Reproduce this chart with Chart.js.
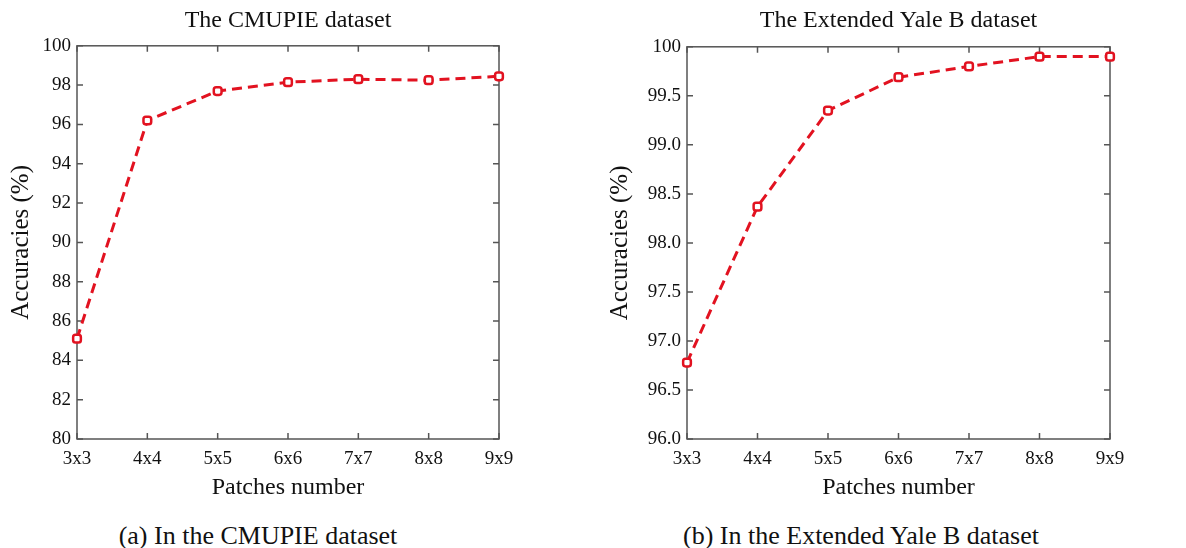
<!DOCTYPE html>
<html><head><meta charset="utf-8">
<script src="https://cdn.jsdelivr.net/npm/chart.js@4/dist/chart.umd.min.js"></script>
<style>
html,body{margin:0;padding:0;background:#fff;width:1186px;height:548px;overflow:hidden;}
.wrap{position:absolute;top:0;}
.cap{position:absolute;top:522px;font-family:"Liberation Serif",serif;font-size:26px;line-height:28px;color:#111;text-align:center;white-space:nowrap;}
</style></head><body>
<div class="wrap" style="left:0"><canvas id="c1" width="580" height="510"></canvas></div>
<div class="wrap" style="left:600px"><canvas id="c2" width="586" height="510"></canvas></div>
<div class="cap" style="left:8px;width:500px">(a) In the CMUPIE dataset</div>
<div class="cap" style="left:611px;width:500px">(b) In the Extended Yale B dataset</div>
<script>
const patches = ['3x3','4x4','5x5','6x6','7x7','8x8','9x9'];
const cmupieAcc = [85.1, 96.2, 97.7, 98.15, 98.3, 98.25, 98.45];
const yaleAcc = [96.78, 98.37, 99.35, 99.69, 99.80, 99.90, 99.90];
const cmupieTickVals = [80,82,84,86,88,90,92,94,96,98,100];
const cmupieTickLabels = ['80','82','84','86','88','90','92','94','96','98','100'];
const yaleTickVals = [96,96.5,97,97.5,98,98.5,99,99.5,100];
const yaleTickLabels = ['96.0','96.5','97.0','97.5','98.0','98.5','99.0','99.5','100'];

const FONT = '"Liberation Serif", "Times New Roman", serif';
const RED = 'rgb(226,18,32)';

const boxPlugin = {
  id: 'box',
  beforeDatasetsDraw(chart) {
    const {ctx, chartArea: a, scales: {x, y}} = chart;
    ctx.save();
    ctx.strokeStyle = '#555';
    ctx.lineWidth = 1.5;
    ctx.strokeRect(a.left, a.top, a.right - a.left, a.bottom - a.top);
    ctx.beginPath();
    x.ticks.forEach((t, i) => {
      const px = x.getPixelForTick(i);
      ctx.moveTo(px, a.bottom); ctx.lineTo(px, a.bottom - 6);
      ctx.moveTo(px, a.top); ctx.lineTo(px, a.top + 6);
    });
    y.ticks.forEach((t, i) => {
      const py = y.getPixelForTick(i);
      ctx.moveTo(a.left, py); ctx.lineTo(a.left + 6, py);
      ctx.moveTo(a.right, py); ctx.lineTo(a.right - 6, py);
    });
    ctx.stroke();
    ctx.restore();
  }
};

function makeChart(id, values, title, tickVals, tickLabels, yWidth, padRight, titlePadBottom, yTitlePad) {
  return new Chart(document.getElementById(id), {
    type: 'line',
    data: {
      labels: patches,
      datasets: [{
        data: values,
        borderColor: RED,
        borderWidth: 3,
        borderDash: [10, 6],
        pointStyle: 'rectRounded',
        pointRadius: 4.5,
        pointBorderWidth: 2.5,
        pointBorderColor: RED,
        pointBackgroundColor: '#fff',
        fill: false,
        tension: 0,
        clip: false
      }]
    },
    options: {
      responsive: false,
      animation: false,
      layout: {padding: {left: 0, right: padRight, top: 0, bottom: 0}},
      plugins: {
        legend: {display: false},
        tooltip: {enabled: false},
        title: {
          display: true, text: title, fullSize: false,
          color: '#111', font: {family: FONT, size: 24, weight: 'normal'},
          padding: {top: 6, bottom: titlePadBottom}
        }
      },
      scales: {
        x: {
          type: 'category', offset: false,
          grid: {display: false, drawTicks: false},
          border: {display: false},
          ticks: {color: '#111', font: {family: FONT, size: 19}, padding: 9, maxRotation: 0, autoSkip: false},
          title: {display: true, text: 'Patches number', color: '#111', font: {family: FONT, size: 24}, padding: {top: 0, bottom: 8}},
          afterFit(s) { s.height = 71; }
        },
        y: {
          min: tickVals[0], max: tickVals[tickVals.length - 1],
          grid: {display: false, drawTicks: false},
          border: {display: false},
          afterBuildTicks(s) { s.ticks = tickVals.map(v => ({value: v})); },
          ticks: {color: '#111', font: {family: FONT, size: 19}, padding: 6,
            callback: (v, i) => tickLabels[i]},
          title: {display: true, text: 'Accuracies (%)', color: '#111', font: {family: FONT, size: 25}, padding: {top: yTitlePad, bottom: 0}},
          afterFit(s) { s.width = yWidth; }
        }
      }
    },
    plugins: [boxPlugin]
  });
}

makeChart('c1', cmupieAcc, 'The CMUPIE dataset', cmupieTickVals, cmupieTickLabels, 77, 81, 11, 6);
makeChart('c2', yaleAcc, 'The Extended Yale B dataset', yaleTickVals, yaleTickLabels, 87, 76, 12, 5);
</script>
</body></html>
